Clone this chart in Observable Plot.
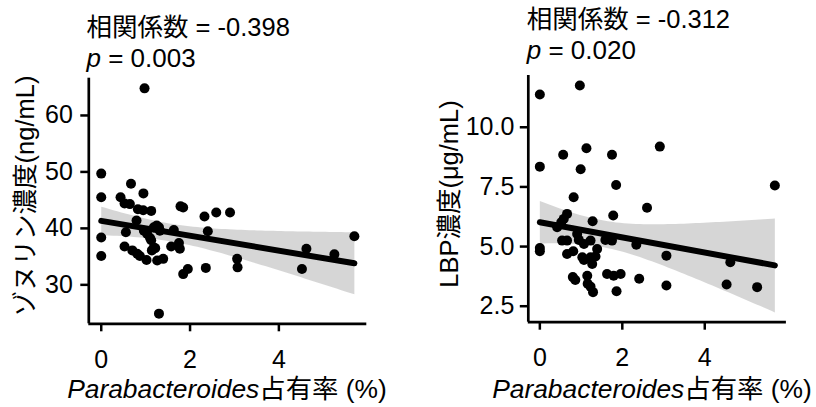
<!DOCTYPE html>
<html>
<head>
<meta charset="utf-8">
<script src="https://cdn.jsdelivr.net/npm/d3@7"></script>
<script src="https://cdn.jsdelivr.net/npm/@observablehq/plot@0.6"></script>
<style>
  html, body { margin: 0; padding: 0; background: #fff; }
  #wrap { position: relative; width: 816px; height: 407px; overflow: hidden; }
  #left, #right { position: absolute; top: 0; }
  #left { left: 0; }
  #right { left: 408px; }
  svg text { font-family: "Liberation Sans", Arial, "Noto Sans CJK JP", sans-serif; }
</style>
</head>
<body>
<div id="wrap"><div id="left"></div><div id="right"></div></div>
<script>
// Parabacteroides occupancy (%) vs zonulin (ng/mL)
const zonX = [0,0,0,0,0.975,0.67,0.95,0.435,0.525,0.645,0.825,0.945,1.125,1.785,1.845,2.325,2.59,2.9,0.795,0.555,0.96,1.035,1.185,1.3,1.32,1.635,2.4,1.125,1.185,0.525,0.70,0.81,0.87,1.02,1.26,1.395,1.575,1.75,1.77,1.845,1.95,2.355,3.06,3.07,1.3,4.52,4.62,5.25,5.70,1.14,1.215,1.10,1.25];
const zonY = [49.7,45.5,38.4,35.1,64.8,47.9,46.2,45.5,44.4,44.3,43.4,43.2,43.1,43.9,43.7,42.1,42.8,42.8,41.4,39.3,39.6,39.0,40.2,40.2,39.6,39.7,39.5,37.9,36.6,36.8,36.1,35.5,35.1,34.4,34.3,34.6,36.8,37.4,36.4,31.9,32.8,33.0,34.6,33.1,24.9,32.8,36.4,35.4,38.6,36.1,36.5,38.3,40.5];
// Parabacteroides occupancy (%) vs LBP (µg/mL)
const lbpX = [0,0.97,0,0.566,1.13,0.99,1.75,2.91,1.85,5.70,0.82,1.78,2.60,0.66,0.58,0.52,1.28,0.42,0,0,0.54,0.66,0.905,0.945,1.07,1.23,1.39,1.59,1.75,2.34,0.66,0.81,1.03,1.07,1.23,1.35,1.27,3.07,4.62,0.80,0.86,1.15,1.16,1.23,1.29,1.63,1.79,1.96,1.86,2.41,3.07,4.53,5.27];
const lbpY = [11.37,11.75,8.35,8.85,9.12,8.24,8.85,9.19,7.58,7.56,7.07,6.30,6.63,6.37,6.16,6.02,6.06,5.81,4.94,4.80,5.25,5.25,5.53,5.28,5.11,5.25,4.90,5.28,5.25,5.08,4.69,4.80,4.55,4.44,4.55,4.58,4.27,4.62,4.34,3.72,3.60,3.78,3.44,3.32,3.09,3.85,3.78,3.85,3.13,3.65,3.37,3.41,3.30];

const xTicks = [0, 2, 4];
const zonTicks = [30, 40, 50, 60];
const lbpTicks = [2.5, 5.0, 7.5, 10.0];

const xLabelItalic = "Parabacteroides";
const xLabelRest = "占有率 (%)";
const zonYLabel = "ゾヌリン濃度(ng/mL)";
const lbpYLabel = "LBP濃度(μg/mL)";
const zonTitle = ["相関係数 = -0.398", "0.003"];
const lbpTitle = ["相関係数 = -0.312", "0.020"];

const FONT = '"Liberation Sans", Arial, "Noto Sans CJK JP", sans-serif';

function panel({xs, ys, yDomain, yTicks, yFmt, marginLeft, marginRight, marginTop, marginBottom, tickPad}) {
  const data = xs.map((x, i) => ({x, y: ys[i]}));
  const xDomain = [-0.28, 5.98];
  return Plot.plot({
    width: 408,
    height: 407,
    marginLeft, marginRight, marginTop, marginBottom,
    style: {fontFamily: FONT, color: "black", background: "white", overflow: "visible"},
    x: {domain: xDomain},
    y: {domain: yDomain},
    marks: [
      Plot.linearRegressionY(data, {x: "x", y: "y", stroke: "black", strokeWidth: 6, fill: "#999999", fillOpacity: 0.4, ci: 0.95}),
      Plot.dot(data, {x: "x", y: "y", r: 5, fill: "black", stroke: "none"}),
      Plot.ruleY([yDomain[0]], {stroke: "black", strokeWidth: 2.7}),
      Plot.ruleX([xDomain[0]], {stroke: "black", strokeWidth: 2.7}),
      Plot.axisX({ticks: xTicks, tickSize: 8, tickPadding: 18, strokeWidth: 2.5, fontSize: 25, label: null, tickFormat: d3.format("d")}),
      Plot.axisY({ticks: yTicks, tickSize: 8, tickPadding: tickPad, strokeWidth: 2.5, fontSize: 25, label: null, tickFormat: yFmt})
    ]
  });
}

function addText(svg, {title, tx, tb1, tb2, xCenter, xBase, yLabel, yx, yy}) {
  const s = d3.select(svg);
  s.append("text").attr("x", tx).attr("y", tb1).attr("font-size", 25.5).attr("fill", "black")
    .attr("text-anchor", "start").attr("font-family", FONT).text(title[0]);
  const t2 = s.append("text").attr("x", tx).attr("y", tb2).attr("font-size", 26).attr("fill", "black")
    .attr("text-anchor", "start").attr("font-family", FONT);
  t2.append("tspan").attr("font-style", "italic").text("p");
  t2.append("tspan").text(" = " + title[1]);
  const xl = s.append("text").attr("x", xCenter).attr("y", xBase).attr("font-size", 26.4)
    .attr("text-anchor", "middle").attr("fill", "black").attr("font-family", FONT);
  xl.append("tspan").attr("font-style", "italic").text(xLabelItalic);
  xl.append("tspan").text(xLabelRest);
  s.append("text").attr("transform", `translate(${yx},${yy}) rotate(-90)`).attr("text-anchor", "middle")
    .attr("dy", "0.36em").attr("font-size", 25.5).attr("fill", "black").attr("font-family", FONT).text(yLabel);
}

const left = panel({xs: zonX, ys: zonY, yDomain: [23.1, 66.6], yTicks: zonTicks, yFmt: d3.format("d"),
  marginLeft: 88.3, marginRight: 41.7, marginTop: 77.7, marginBottom: 83.7, tickPad: 8});
addText(left, {title: zonTitle, tx: 86.5, tb1: 35.5, tb2: 66.5, xCenter: 227, xBase: 398, yLabel: zonYLabel, yx: 25, yy: 196});
document.getElementById("left").appendChild(left);

const right = panel({xs: lbpX, ys: lbpY, yDomain: [1.83, 12.17], yTicks: lbpTicks, yFmt: d3.format(".1f"),
  marginLeft: 119.8, marginRight: 30.1, marginTop: 75, marginBottom: 85.3, tickPad: 6});
addText(right, {title: lbpTitle, tx: 526.7 - 408, tb1: 27.5, tb2: 58.5, xCenter: 652 - 408, xBase: 398, yLabel: lbpYLabel, yx: 449 - 408, yy: 194});
document.getElementById("right").appendChild(right);
</script>
</body>
</html>
